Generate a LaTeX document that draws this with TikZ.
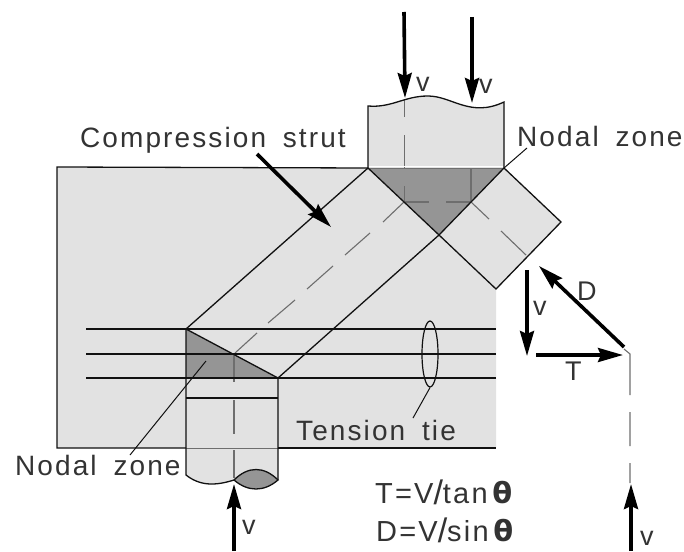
\documentclass[tikz,border=0pt]{standalone}
\usepackage{fontspec}
\setmainfont[LetterSpace=7.5,WordSpace=1.7]{Liberation Sans}
\newfontfamily\thetafont{DejaVu Sans}
\usetikzlibrary{arrows.meta,shapes.geometric}
\definecolor{conc}{HTML}{E2E2E2}
\definecolor{nodal}{HTML}{959595}
\definecolor{ink}{HTML}{111111}
\definecolor{lab}{HTML}{333333}
\definecolor{cen}{HTML}{6E6E6E}
\newcommand{\bigslash}{{\fontsize{34}{34}\selectfont\raisebox{-1pt}{/}}}
\tikzset{
  edge/.style={draw=ink,line width=1.3pt},
  rebar/.style={draw=ink,line width=1.3pt},
  thin leader/.style={draw=ink,line width=1pt},
  centre/.style={draw=cen,line width=1.1pt},
  force/.style={draw=black,line width=3.6pt,-{Stealth[length=25pt,width=14pt,inset=3pt]}},
  lbl/.style={text=lab,inner sep=0pt,anchor=base west,font=\fontsize{28}{28}\selectfont},
  sml/.style={text=lab,inner sep=0pt,anchor=base west,font=\fontsize{27}{27}\selectfont},
  frm/.style={text=lab,inner sep=0pt,anchor=base west,font=\fontsize{29}{29}\selectfont},
}
\begin{document}
\begin{tikzpicture}[x=1pt,y=-1pt]
\useasboundingbox (0,0) rectangle (684,551);
% key points
\coordinate (bTL) at (57,167);
\coordinate (bBL) at (57,448);
\coordinate (bBR) at (496,448);
\coordinate (bR) at (496,289);
\coordinate (cL) at (368,168);
\coordinate (cR) at (504,168);
\coordinate (cB) at (439,235);
\coordinate (sE) at (561,222);
\coordinate (nA) at (186,329);
\coordinate (nB) at (186,378);
\coordinate (nC) at (278,378);
% concrete
\fill[conc] (bTL) -- (cL) -- (368,106) .. controls (392,108) and (404,96) .. (428,96) .. controls (452,96) and (470,118) .. (504,102) -- (cR) -- (sE) -- (bR) -- (bBR) -- (278,448) -- (278,480) -- (234,480) .. controls (215,486) and (200,486) .. (186,475) -- (186,448) -- (bBL) -- cycle;
% nodal zones
\fill[nodal] (cL) -- (cR) -- (cB) -- cycle;
\fill[nodal] (nA) -- (nB) -- (nC) -- cycle;
\fill[nodal] (234,480) .. controls (248,466) and (264,466) .. (278,480) .. controls (264,492) and (248,492) .. (234,480) -- cycle;
% centre lines
\draw[centre] (404.5,100) -- (404.5,117) (404.5,135) -- (404.5,168) (404.5,186) -- (404.5,202) -- (429,202);
\draw[centre] (446,202) -- (471,202) -- (471,168);
\draw[centre] (471,202) -- (489,219) (501,231) -- (526,255);
\draw[centre] (404,202) -- (383,222) (370,233) -- (345,255) (333,266) -- (307,289) (295,300) -- (268,323) (257,333) -- (235,353);
\draw[centre] (234,354) -- (234,382) (234,400) -- (234,434) (234,450) -- (234,478);
\draw[centre] (624,349) -- (630,354) -- (630,395) (630,412) -- (630,446) (630,463) -- (630,483);
% beam outline
\draw[edge] (cL) -- (bTL) -- (bBL) -- (186,448);
\draw[edge] (278,448) -- (bBR);
\draw[cen,line width=0.9pt] (186,448) -- (278,448);
% top column
\draw[edge] (cL) -- (368,106) .. controls (392,108) and (404,96) .. (428,96) .. controls (452,96) and (470,118) .. (504,102) -- (cR);
\draw[cen,line width=0.9pt] (cL) -- (cR);
\draw[white,line width=1.2pt] (369,166.4) -- (503,166.4);
% struts
\draw[edge] (cL) -- (cB) (cR) -- (cB);
\draw[edge] (cR) -- (sE) -- (bR) -- (cB);
\draw[edge] (cL) -- (nA);
\draw[edge] (cB) -- (nC);
% lower node and column
\draw[rebar] (86,329) -- (496,329);
\draw[rebar] (86,354) -- (496,354);
\draw[rebar] (86,378) -- (496,378);
\draw[edge] (nA) -- (nB) -- (186,475) .. controls (200,486) and (215,486) .. (234,480);
\draw[edge] (nA) -- (nC) -- (278,480);
\draw[edge] (186,398) -- (278,398);
\draw[edge] (234,480) .. controls (248,466) and (264,466) .. (278,480) .. controls (264,492) and (248,492) .. (234,480);
% tie loop and leaders
\node[draw=ink,line width=1.2pt,ellipse,minimum width=16pt,minimum height=66pt,inner sep=0pt] (loop) at (430,354) {};
\coordinate (t1) at (413,418);
\draw[thin leader] (loop.south) -- (t1);
\coordinate (n1) at (527,148);
\draw[thin leader] (cR) -- (n1);
\coordinate (n2a) at (206,361);
\coordinate (n2b) at (130,455);
\draw[thin leader] (n2a) -- (n2b);
% forces
\coordinate (f1a) at (404,12); \coordinate (f1b) at (405,98);
\coordinate (f2a) at (472,17); \coordinate (f2b) at (472,103);
\coordinate (f3a) at (257,154); \coordinate (f3b) at (331,227);
\coordinate (f4a) at (234,551); \coordinate (f4b) at (234,484);
\coordinate (f5a) at (527,270); \coordinate (f5b) at (527,356);
\coordinate (f6a) at (536,355); \coordinate (f6b) at (623,355);
\coordinate (f7a) at (624,347); \coordinate (f7b) at (539,266);
\coordinate (f8a) at (631,551); \coordinate (f8b) at (631,484);
\draw[force] (f1a) -- (f1b);
\draw[force] (f2a) -- (f2b);
\draw[force] (f3a) -- (f3b);
\draw[force] (f4a) -- (f4b);
\draw[force] (f5a) -- (f5b);
\draw[force] (f6a) -- (f6b);
\draw[force] (f7a) -- (f7b);
\draw[force] (f8a) -- (f8b);
% labels
\node[lbl] (tComp) at (80,147) {Compression strut};
\node[lbl] (tNod1) at (517,146) {Nodal zone};
\node[lbl] (tNod2) at (15,475) {Nodal zone};
\node[lbl] (tTen) at (296,440) {Tension tie};
\node[sml] (v1) at (416,91) {v};
\node[sml] (v2) at (479,93) {v};
\node[sml] (v3) at (533,315) {v};
\node[sml] (v4) at (242,534) {v};
\node[sml] (v5) at (640,545) {v};
\node[sml] (tD) at (577,300) {D};
\node[sml] (tT) at (565,380) {T};
\node[frm] (f1) at (375,503) {T=V\bigslash tan\,{\thetafont\bfseries θ}};
\node[frm] (f2) at (376,541) {D=V\bigslash sin\,{\thetafont\bfseries θ}};
\end{tikzpicture}
\end{document}
